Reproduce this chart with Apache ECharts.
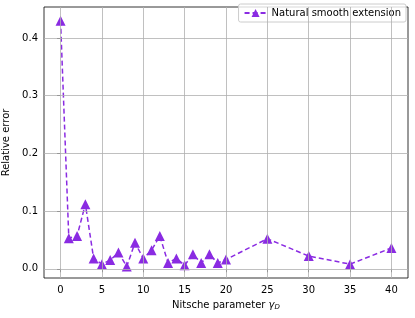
<!DOCTYPE html>
<html><head><meta charset="utf-8">
<script src="https://cdn.jsdelivr.net/npm/echarts@6/dist/echarts.min.js"></script>
<style>html,body{margin:0;padding:0;background:#fff}#c{width:415px;height:318px}</style>
</head><body><div id="c"></div>
<script>
const gammaValues = [0,1,2,3,4,5,6,7,8,9,10,11,12,13,14,15,16,17,18,19,20,25,30,35,40];
const relErrors = [0.430,0.053,0.057,0.112,0.018,0.008,0.015,0.028,0.004,0.045,0.018,0.032,0.057,0.010,0.018,0.006,0.025,0.010,0.025,0.010,0.016,0.052,0.022,0.008,0.036];
const xTicks = [0,5,10,15,20,25,30,35,40];
const yTicks = [0,0.1,0.2,0.3,0.4];
const seriesName = 'Natural smooth extension';

const font = 'DejaVu Sans';
const chart = echarts.init(document.getElementById('c'));
const gridLine = {color:'#b0b0b0', width:0.8, type:'solid'};
chart.setOption({
  animation:false,
  textStyle:{fontFamily:font},
  grid:{left:44, right:7, top:7, bottom:40, show:true, borderColor:'#000', borderWidth:0.8, containLabel:false, outerBoundsMode:'none'},
  legend:{
    data:[seriesName], right:9, top:4, orient:'horizontal',
    itemWidth:22, itemHeight:10, itemGap:4,
    textStyle:{fontFamily:font, fontSize:10, color:'#000'},
    borderColor:'#cccccc', borderWidth:1, borderRadius:2, padding:[4,5,4,5], backgroundColor:'rgba(255,255,255,0.8)'
  },
  xAxis:{
    type:'value', min:-2, max:42,
    name:'Nitsche parameter {i|γ}{s|D}', nameLocation:'middle', nameGap:22,
    nameTextStyle:{fontFamily:font, fontSize:10, color:'#000', rich:{i:{fontFamily:font, fontStyle:'italic', fontSize:10, color:'#000'}, s:{fontFamily:font, fontStyle:'italic', fontSize:7, color:'#000', verticalAlign:'bottom', padding:[4,0,0,0]}}},
    axisLine:{show:false},
    axisTick:{show:true, customValues:xTicks, length:3.5, lineStyle:{color:'#000', width:0.8}},
    axisLabel:{customValues:xTicks, fontFamily:font, fontSize:10, color:'#000', margin:7},
    splitLine:{show:false}
  },
  yAxis:{
    type:'value', min:-0.016, max:0.4537,
    name:'Relative error', nameLocation:'middle', nameGap:25,
    nameTextStyle:{fontFamily:font, fontSize:10, color:'#000'},
    axisLine:{show:false},
    axisTick:{show:true, customValues:yTicks, length:3.5, lineStyle:{color:'#000', width:0.8}},
    axisLabel:{customValues:yTicks, fontFamily:font, fontSize:10, color:'#000', margin:6, formatter:v=>v.toFixed(1)},
    splitLine:{show:false}
  },
  series:[
    {
      type:'line', name:'grid', data:[], z:1, silent:true,
      markLine:{silent:true, symbol:'none', label:{show:false}, lineStyle:gridLine, animation:false,
        data: xTicks.map(v=>({xAxis:v})).concat(yTicks.map(v=>({yAxis:v})))}
    },
    {
      type:'line', name:seriesName, z:3,
      data: gammaValues.map((g,i)=>[g, relErrors[i]]),
      symbol:'triangle', symbolSize:10,
      itemStyle:{color:'#8a2be2'},
      lineStyle:{color:'#8a2be2', width:1.5, type:[5,3]}
    }
  ]
});
</script></body></html>
